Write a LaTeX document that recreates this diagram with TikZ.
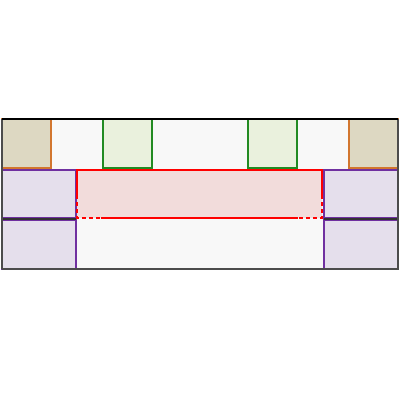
\documentclass[tikz,border=0pt]{standalone}
\usepackage{tikz}
\usepackage[svgnames]{xcolor}

\definecolor{bgfill}{HTML}{F8F8F8}
\definecolor{tanfill}{HTML}{DDD8C2}
\definecolor{tanline}{HTML}{D2762E}
\definecolor{greenfill}{HTML}{EAF1DD}
\definecolor{greenline}{HTML}{228B22}
\definecolor{purplefill}{HTML}{E5DFEC}
\definecolor{purpleline}{HTML}{7030A0}
\definecolor{redfill}{HTML}{F2DCDB}

\begin{document}
\begin{tikzpicture}[x=0.25mm,y=-0.25mm]
    \tikzstyle{tanbox}=[fill=tanfill,draw=tanline,line width=0.9pt]
    \tikzstyle{greenbox}=[fill=greenfill,draw=greenline,line width=1.1pt]
    \tikzstyle{purplebox}=[fill=purplefill,draw=purpleline,line width=0.8pt]
    \tikzstyle{redline}=[draw=red,line width=0.9pt]
    \tikzstyle{reddash}=[draw=red,line width=0.9pt,dash pattern=on 3pt off 2pt]
    \useasboundingbox (0,0) rectangle (400,400);
    % frame
    \fill[bgfill] (2,119) rectangle (398,269);
    % top row
    \draw[tanbox]   (2,119)   rectangle (51,168);
    \draw[tanbox]   (349,119) rectangle (398,168);
    \draw[greenbox] (103,119) rectangle (152,168);
    \draw[greenbox] (248,119) rectangle (297,168);
    % side columns
    \draw[purplebox] (2,170)   rectangle (76,218);
    \draw[purplebox] (2,220)   rectangle (76,269);
    \draw[purplebox] (324,170) rectangle (398,218);
    \draw[purplebox] (324,220) rectangle (398,269);
    % middle band
    \fill[redfill] (77,170) rectangle (322,218);
    \draw[redline] (77,195) -- (77,170) -- (322,170) -- (322,195);
    \draw[redline] (101,218) -- (298,218);
    \draw[reddash] (77,195) -- (77,218) -- (101,218);
    \draw[reddash] (322,195) -- (322,218) -- (298,218);
    % dividers
    \draw[line width=1.6pt,black!80] (2,219) -- (76,219);
    \draw[line width=1.6pt,black!80] (324,219) -- (398,219);
    \draw[line width=1.2pt,black!70] (2,269) -- (2,119);
    \draw[line width=1.2pt,black!70] (398,119) -- (398,269) -- (2,269);
    \draw[line width=1.2pt,black] (2,119) -- (398,119);
\end{tikzpicture}
\end{document}
